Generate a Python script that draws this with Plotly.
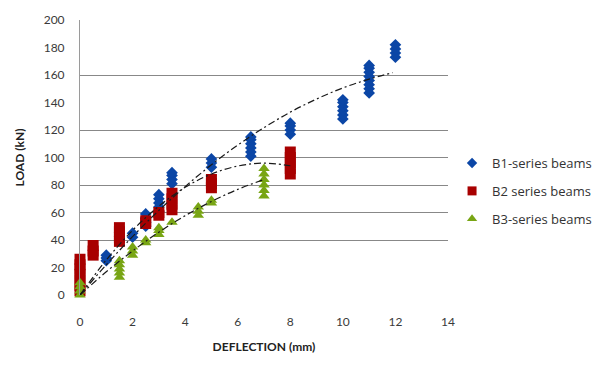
import plotly.graph_objects as go

# ---- data ----
b1_x = [1, 1, 1,
        2, 2,
        2.5, 2.5, 2.5, 2.5,
        3, 3, 3, 3, 3,
        3.5, 3.5, 3.5, 3.5,
        5, 5, 5,
        6.5, 6.5, 6.5, 6.5, 6.5, 6.5,
        8, 8, 8, 8,
        10, 10, 10, 10, 10, 10,
        11, 11, 11, 11, 11, 11, 11, 11,
        12, 12, 12, 12]
b1_y = [25, 27, 29,
        42, 45,
        50, 53, 56, 59,
        61, 64, 67, 70, 73,
        81, 84, 87, 89,
        93, 96, 99,
        101, 104, 107, 110, 113, 115,
        117, 120, 123, 125,
        128, 131, 134, 137, 140, 142,
        147, 150, 153, 156, 159, 162, 165, 167,
        173, 176, 179, 182]

b2_x = [0, 0, 0, 0, 0, 0, 0,
        0.5, 0.5, 0.5,
        1.5, 1.5, 1.5, 1.5,
        2.5, 2.5,
        3, 3,
        3.5, 3.5, 3.5, 3.5,
        5, 5, 5,
        8, 8, 8, 8, 8]
b2_y = [3, 7, 11, 15, 19, 22, 26,
        29, 32, 36,
        39, 42, 46, 49,
        52, 54,
        58, 60,
        62, 66, 70, 74,
        78, 81, 84,
        88, 92, 96, 100, 104]

b3_x = [0, 0, 0, 0,
        1.5, 1.5, 1.5, 1.5, 1.5,
        2, 2, 2,
        2.5, 2.5,
        3, 3, 3,
        3.5,
        4.5, 4.5, 4.5,
        5, 5,
        7, 7, 7, 7, 7, 7]
b3_y = [0, 3, 6, 9,
        13, 16, 19, 22, 25,
        29, 32, 35,
        38, 40,
        44, 47, 49,
        53,
        58, 61, 64,
        67, 69,
        72, 76, 80, 84, 88, 92]

# trendlines
t1_x = [0, 1, 2, 3, 4, 5, 6, 7, 8, 9, 10, 11, 11.9]
t1_y = [0, 22, 42.5, 61.5, 78.8, 94.7, 109, 121.7, 133, 142.5, 150.6, 157, 161.7]
t2_x = [0, 1, 2, 3, 4, 5, 6, 7, 8]
t2_y = [0, 25.5, 47, 64.6, 78.3, 88, 93.8, 95.9, 94]
t3_x = [0, 1, 2, 3, 4, 5, 6, 7]
t3_y = [0, 16.9, 32, 45.7, 57.7, 68, 76.8, 84]

names = ["B1-series beams", "B2 series beams", "B3-series beams"]
grid_vals = [0, 40, 60, 80, 100, 120, 160, 200]
x_ticks = [0, 2, 4, 6, 8, 10, 12, 14]
y_ticks = [0, 20, 40, 60, 80, 100, 120, 140, 160, 180, 200]

BLUE = "#0b46a6"
RED = "#a80000"
GREEN = "#78a514"
DASH = "7px,3px,2px,3px"

fig = go.Figure()

series = [(b1_x, b1_y, "diamond", 9, 8, BLUE, "a"),
          (b2_x, b2_y, "square", 11, 9, RED, "b"),
          (b3_x, b3_y, "triangle-up", 10, 9, GREEN, "c")]

for (sx, sy, sym, size, lsize, col, grp), nm in zip(series, names):
    fig.add_trace(go.Scatter(x=sx, y=sy, mode="markers", name=nm,
                             legendgroup=grp, showlegend=False,
                             marker=dict(symbol=sym, size=size, color=col),
                             cliponaxis=False))
    # legend-only entry with the smaller legend symbol
    fig.add_trace(go.Scatter(x=[None], y=[None], mode="markers", name=nm,
                             legendgroup=grp, showlegend=True,
                             marker=dict(symbol=sym, size=lsize, color=col)))

for tx, ty in [(t1_x, t1_y), (t2_x, t2_y), (t3_x, t3_y)]:
    fig.add_trace(go.Scatter(x=tx, y=ty, mode="lines", showlegend=False,
                             line=dict(color="#1a1a1a", width=1.2, dash=DASH,
                                       shape="spline"),
                             hoverinfo="skip"))

# invisible trace to own the grid axis
fig.add_trace(go.Scatter(x=[0], y=[0], yaxis="y2", mode="markers",
                         marker=dict(opacity=0), showlegend=False,
                         hoverinfo="skip"))

tick_font = dict(family="Lato, Open Sans, sans-serif", size=12, color="#3a3a3a")
title_font = dict(family="Lato, Open Sans, sans-serif", size=12, color="#222222")

fig.update_layout(
    width=602, height=367,
    margin=dict(l=80, r=154, t=20, b=72, autoexpand=False),
    paper_bgcolor="white", plot_bgcolor="white",
    showlegend=True,
    legend=dict(x=1.011, y=0.378, xanchor="left", yanchor="middle",
                font=dict(family="Open Sans, sans-serif", size=13,
                          color="#333333"),
                tracegroupgap=8, itemwidth=30, bgcolor="rgba(0,0,0,0)"),
    xaxis=dict(range=[0, 14], tickvals=x_ticks, showgrid=False, zeroline=False,
               showline=False, ticks="", tickfont=tick_font,
               ticklabelstandoff=18,
               title=dict(text="<b>DEFLECTION (mm)</b>", font=title_font,
                          standoff=14)),
    yaxis=dict(range=[0, 200], tickvals=y_ticks, showgrid=False, zeroline=False,
               showline=True, linecolor="#9a9a9a", linewidth=1, ticks="",
               tickfont=tick_font, ticklabelstandoff=12,
               title=dict(text="<b>LOAD (kN)</b>", font=title_font,
                          standoff=16)),
    yaxis2=dict(range=[0, 200], overlaying="y", tickvals=grid_vals,
                showticklabels=False, showgrid=True, gridcolor="#888888",
                gridwidth=1.3, zeroline=False, showline=False, ticks=""),
)

fig.write_html("out.html")
